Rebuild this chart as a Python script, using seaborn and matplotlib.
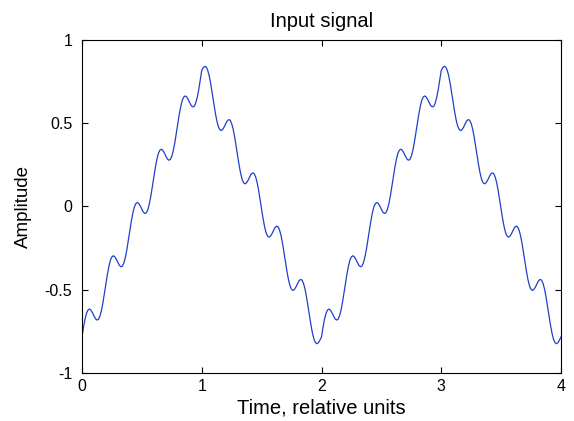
import matplotlib
matplotlib.use("Agg")
import matplotlib.pyplot as plt
import seaborn as sns
import pandas as pd

# Time axis samples (relative units), step 0.0125 from 0 to 4
time_units = [round(i * 0.0125, 4) for i in range(321)]

# Amplitude values, one period (t = 0 .. 2)
period_amplitude = [
    -0.783, -0.726, -0.678, -0.642, -0.622, -0.616, -0.623, -0.638,
    -0.657, -0.674, -0.682, -0.678, -0.658, -0.624, -0.577, -0.522,
    -0.463, -0.406, -0.358, -0.322, -0.302, -0.296, -0.303, -0.318,
    -0.337, -0.354, -0.362, -0.358, -0.338, -0.304, -0.257, -0.202,
    -0.143, -0.086, -0.038, -0.002, 0.018, 0.024, 0.017, 0.002,
    -0.017, -0.034, -0.042, -0.038, -0.018, 0.016, 0.063, 0.118,
    0.177, 0.234, 0.282, 0.318, 0.338, 0.344, 0.337, 0.322,
    0.303, 0.286, 0.278, 0.282, 0.302, 0.336, 0.383, 0.438,
    0.497, 0.554, 0.602, 0.638, 0.658, 0.664, 0.657, 0.642,
    0.623, 0.606, 0.598, 0.602, 0.622, 0.656, 0.703, 0.758,
    0.817, 0.834, 0.842, 0.838, 0.818, 0.784, 0.737, 0.682,
    0.623, 0.566, 0.518, 0.482, 0.462, 0.456, 0.463, 0.478,
    0.497, 0.514, 0.522, 0.518, 0.498, 0.464, 0.417, 0.362,
    0.303, 0.246, 0.198, 0.162, 0.142, 0.136, 0.143, 0.158,
    0.177, 0.194, 0.202, 0.198, 0.178, 0.144, 0.097, 0.042,
    -0.017, -0.074, -0.122, -0.158, -0.178, -0.184, -0.177, -0.162,
    -0.143, -0.126, -0.118, -0.122, -0.142, -0.176, -0.223, -0.278,
    -0.337, -0.394, -0.442, -0.478, -0.498, -0.504, -0.497, -0.482,
    -0.463, -0.446, -0.438, -0.442, -0.462, -0.496, -0.543, -0.598,
    -0.657, -0.714, -0.762, -0.798, -0.818, -0.824, -0.817, -0.802,
    -0.783,
]
# The reference shows two identical periods (t = 0 .. 4)
amplitude = period_amplitude + period_amplitude[1:]

x_ticks = [0, 1, 2, 3, 4]
x_tick_labels = ["0", "1", "2", "3", "4"]
y_ticks = [-1, -0.5, 0, 0.5, 1]
y_tick_labels = ["-1", "-0.5", "0", "0.5", "1"]

title = "Input signal"
x_label = "Time, relative units"
y_label = "Amplitude"

df = pd.DataFrame({"t": time_units, "a": amplitude})

sns.set_style("white")
plt.rcParams["font.family"] = ["Liberation Sans", "DejaVu Sans"]
plt.rcParams["font.size"] = 11
plt.rcParams["text.color"] = "black"
plt.rcParams["axes.labelcolor"] = "black"

fig = plt.figure(figsize=(5.74, 4.21), dpi=100)
ax = fig.add_axes([82 / 574, 1 - 373 / 421, (561 - 82) / 574, (373 - 40) / 421])

sns.lineplot(data=df, x="t", y="a", ax=ax, color="#1f3fcc", linewidth=0.9)

ax.set_xlim(0, 4)
ax.set_ylim(-1, 1)
ax.set_xticks(x_ticks)
ax.set_xticklabels(x_tick_labels)
ax.set_yticks(y_ticks)
ax.set_yticklabels(y_tick_labels)
ax.tick_params(axis="both", direction="in", length=4, width=0.8, colors="black",
               labelcolor="black", top=True, right=True, bottom=True, left=True,
               labelsize=11.5)
ax.tick_params(axis="x", pad=4.5)
ax.tick_params(axis="y", pad=7)
for s in ax.spines.values():
    s.set_visible(True)
    s.set_color("black")
    s.set_linewidth(0.8)

ax.set_title(title, fontsize=14.5, pad=9.4, color="black")
ax.set_xlabel(x_label, fontsize=14.5, color="black")
ax.xaxis.set_label_coords(0.5, -0.0766)
ax.set_ylabel(y_label, fontsize=13.5, color="black")
ax.yaxis.set_label_coords(-0.104, 0.5)

fig.savefig("out.png", dpi=100)
